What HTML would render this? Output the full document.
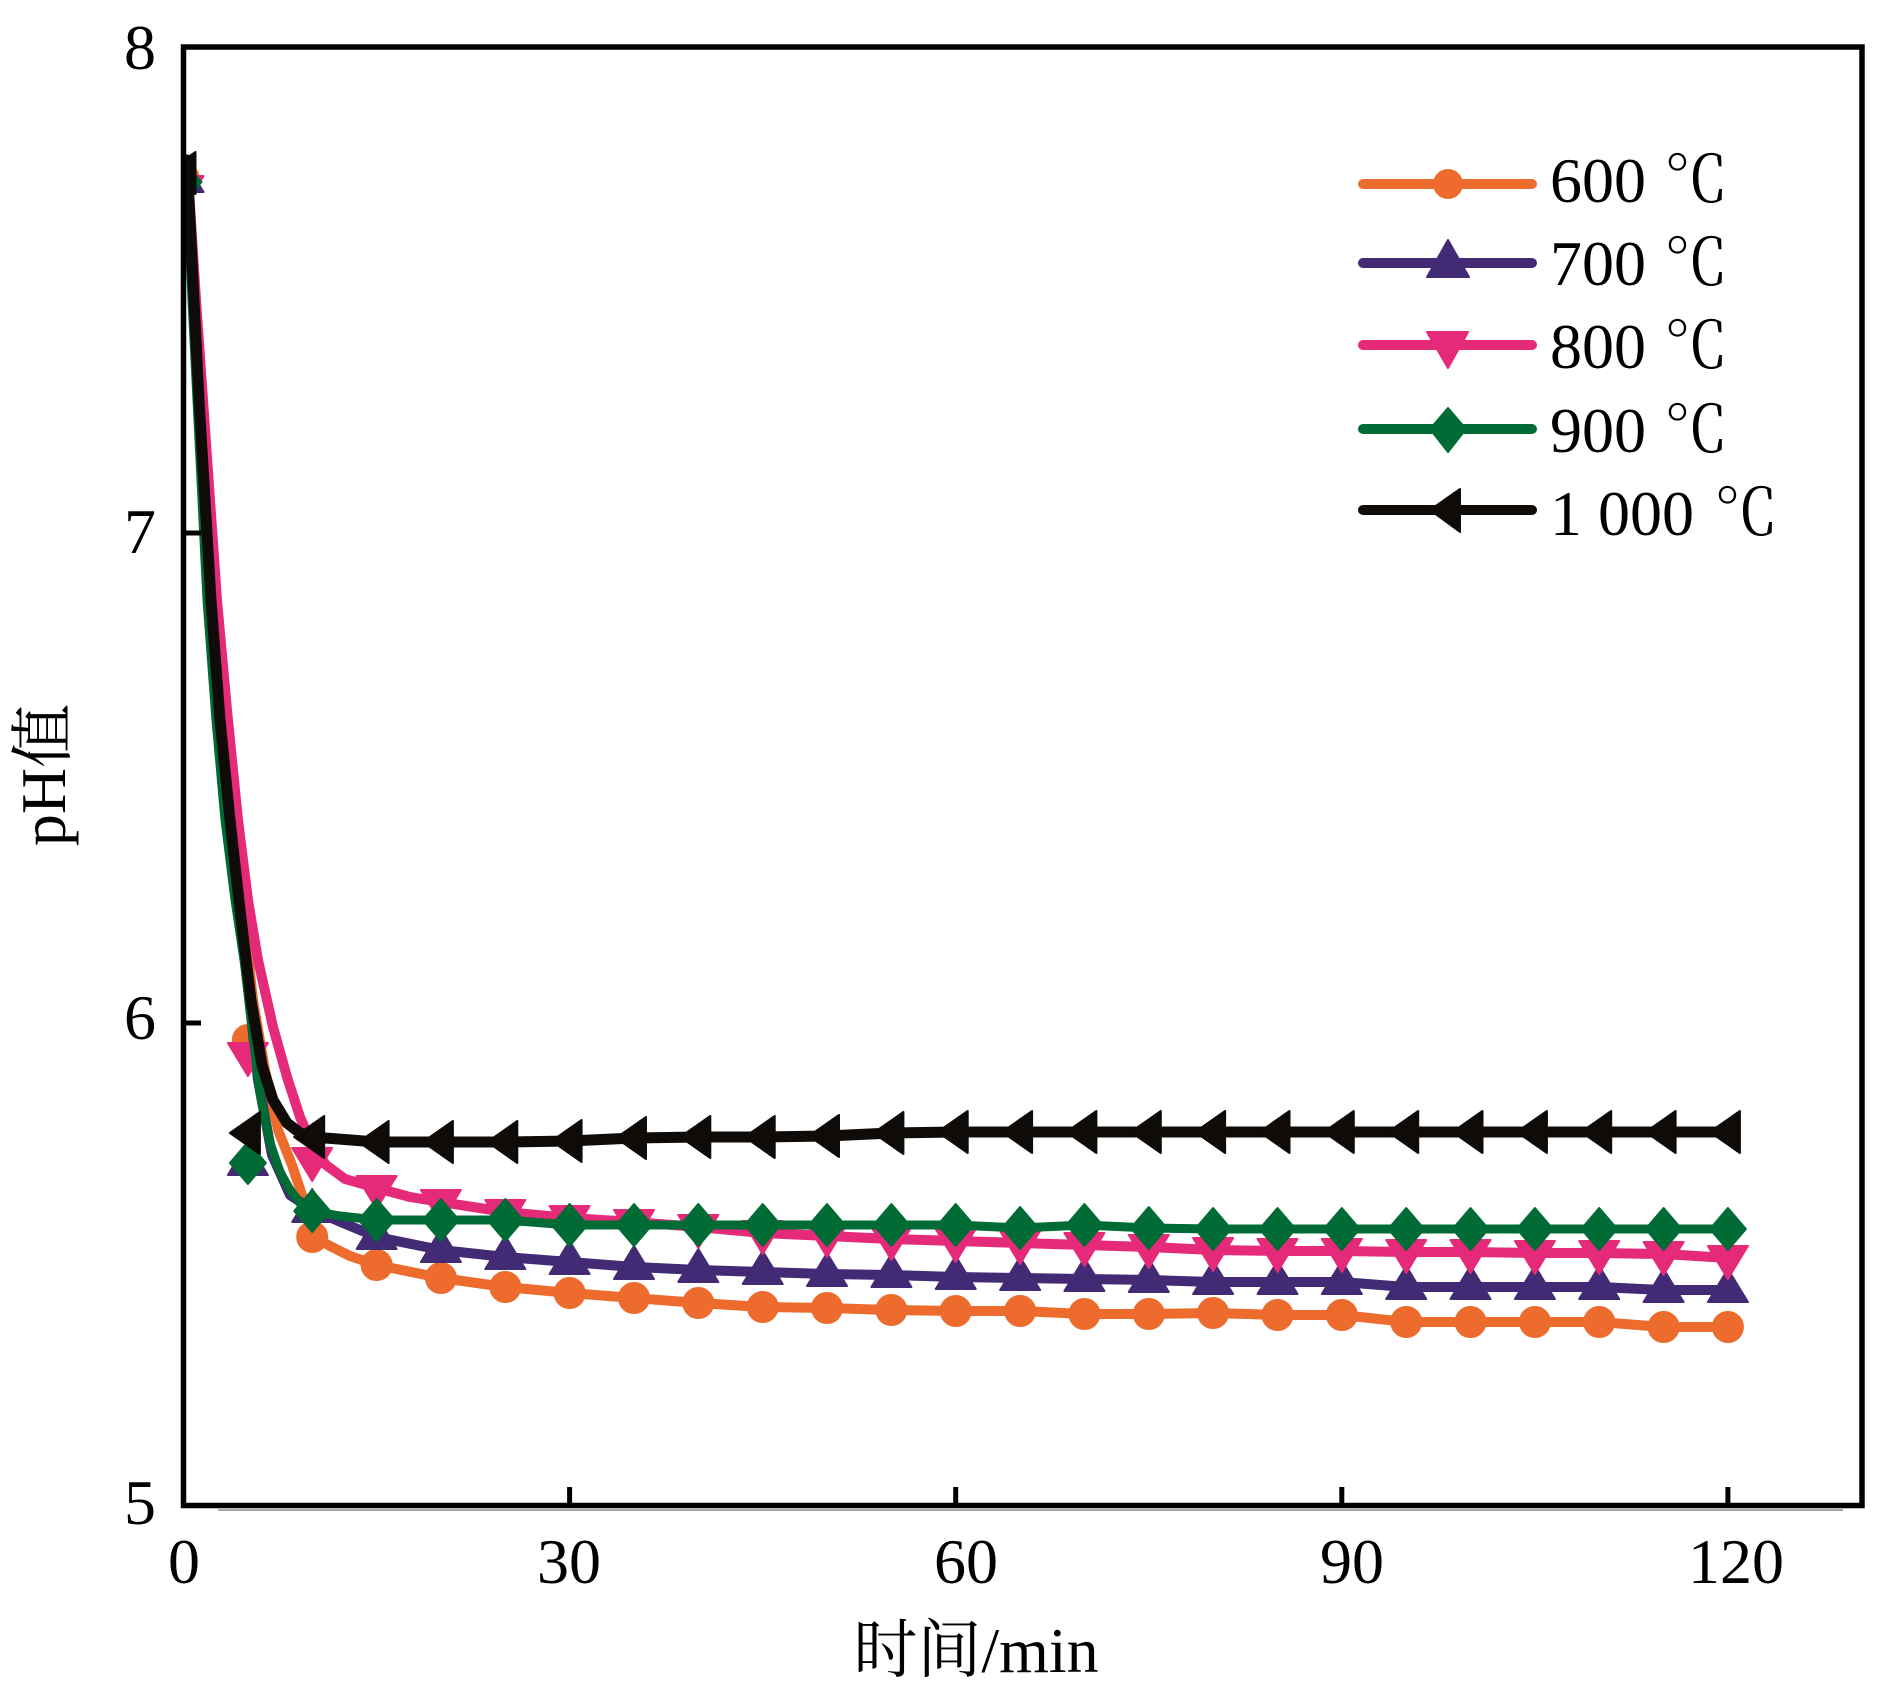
<!DOCTYPE html>
<html>
<head>
<meta charset="utf-8">
<style>
html,body{margin:0;padding:0;background:#fff;}
svg{display:block;}
text{font-family:"Liberation Serif","Noto Serif CJK SC",serif;fill:#000;}
</style>
</head>
<body>
<svg width="1890" height="1703" viewBox="0 0 1890 1703" xmlns="http://www.w3.org/2000/svg">
<defs>
  <clipPath id="pa"><rect x="183.5" y="47" width="1678.5" height="1458.5"/></clipPath>
  <circle id="c" cx="0" cy="0" r="15"/>
  <polygon id="tu" points="0,-21 20,12 -20,12" stroke-linejoin="round"/>
  <polygon id="td" points="0,21 20,-12 -20,-12" stroke-linejoin="round"/>
  <polygon id="dm" points="0,-21 18,0 0,21 -18,0" stroke-linejoin="round"/>
  <polygon id="tl" points="-18,0 12,-21 12,21" stroke-linejoin="round"/>
</defs>
<rect width="1890" height="1703" fill="#fff"/>

<g clip-path="url(#pa)">
  <!-- 600 orange -->
  <polyline fill="none" stroke="#EC6B2D" stroke-width="10" stroke-linejoin="round" stroke-linecap="round"
    points="188,180 200,400 213,600 233,820 253,1000 265,1070 278,1130 292,1165 302,1195 310,1225 314,1237 330,1246 350,1256 376.6,1265 440.9,1278 505.3,1287 569.6,1293 634,1298 698.3,1303 762.7,1307 827,1308 891.4,1310 955.7,1311 1020.1,1311 1084.4,1314 1148.8,1314 1213.1,1313 1277.5,1315 1341.8,1315 1406.2,1322 1470.5,1322 1534.9,1322 1599.2,1322 1663.6,1327 1727.9,1327"/>
  <g fill="#EC6B2D" stroke="#EC6B2D" stroke-width="2">
    <use href="#c" x="183.5" y="178"/><use href="#c" x="247.9" y="1040"/><use href="#c" x="312.2" y="1237"/><use href="#c" x="376.6" y="1265"/><use href="#c" x="440.9" y="1278"/><use href="#c" x="505.3" y="1287"/><use href="#c" x="569.6" y="1293"/><use href="#c" x="634" y="1298"/><use href="#c" x="698.3" y="1303"/><use href="#c" x="762.7" y="1307"/><use href="#c" x="827" y="1308"/><use href="#c" x="891.4" y="1310"/><use href="#c" x="955.7" y="1311"/><use href="#c" x="1020.1" y="1311"/><use href="#c" x="1084.4" y="1314"/><use href="#c" x="1148.8" y="1314"/><use href="#c" x="1213.1" y="1313"/><use href="#c" x="1277.5" y="1315"/><use href="#c" x="1341.8" y="1315"/><use href="#c" x="1406.2" y="1322"/><use href="#c" x="1470.5" y="1322"/><use href="#c" x="1534.9" y="1322"/><use href="#c" x="1599.2" y="1322"/><use href="#c" x="1663.6" y="1327"/><use href="#c" x="1727.9" y="1327"/>
  </g>

  <!-- 700 purple -->
  <polyline fill="none" stroke="#432A74" stroke-width="10" stroke-linejoin="round" stroke-linecap="round"
    points="187,182 198,400 209,600 228,820 245,960 258,1080 272,1155 290,1195 312.2,1210 376.6,1237 440.9,1250 505.3,1257 569.6,1262 634,1267 698.3,1270 762.7,1272 827,1274 891.4,1275 955.7,1277 1020.1,1278 1084.4,1279 1148.8,1280 1213.1,1282 1277.5,1282 1341.8,1282 1406.2,1287 1470.5,1287 1534.9,1287 1599.2,1287 1663.6,1290 1727.9,1290"/>
  <g fill="#432A74" stroke="#432A74" stroke-width="2">
    <use href="#tu" x="183.5" y="180"/><use href="#tu" x="247.9" y="1163"/><use href="#tu" x="312.2" y="1210"/><use href="#tu" x="376.6" y="1237"/><use href="#tu" x="440.9" y="1250"/><use href="#tu" x="505.3" y="1257"/><use href="#tu" x="569.6" y="1262"/><use href="#tu" x="634" y="1267"/><use href="#tu" x="698.3" y="1270"/><use href="#tu" x="762.7" y="1272"/><use href="#tu" x="827" y="1274"/><use href="#tu" x="891.4" y="1275"/><use href="#tu" x="955.7" y="1277"/><use href="#tu" x="1020.1" y="1278"/><use href="#tu" x="1084.4" y="1279"/><use href="#tu" x="1148.8" y="1280"/><use href="#tu" x="1213.1" y="1282"/><use href="#tu" x="1277.5" y="1282"/><use href="#tu" x="1341.8" y="1282"/><use href="#tu" x="1406.2" y="1287"/><use href="#tu" x="1470.5" y="1287"/><use href="#tu" x="1534.9" y="1287"/><use href="#tu" x="1599.2" y="1287"/><use href="#tu" x="1663.6" y="1290"/><use href="#tu" x="1727.9" y="1290"/>
  </g>

  <!-- 800 pink -->
  <polyline fill="none" stroke="#E42A78" stroke-width="10" stroke-linejoin="round" stroke-linecap="round"
    points="189,190 196,300 203,400 210,500 217,600 227,710 238,820 248,900 258,960 273,1027 287,1077 300,1117 312,1145 326,1165 345,1179 376.6,1188 410,1197 440.9,1202 505.3,1212 569.6,1218 634,1222 698.3,1227 762.7,1233 827,1236 891.4,1239 955.7,1241 1020.1,1243 1084.4,1245 1148.8,1247 1213.1,1250 1277.5,1251 1341.8,1251 1406.2,1252 1470.5,1252 1534.9,1253 1599.2,1253 1663.6,1254 1727.9,1258"/>
  <g fill="#E42A78" stroke="#E42A78" stroke-width="2">
    <use href="#td" x="183.5" y="188"/><use href="#td" x="247.9" y="1055"/><use href="#td" x="312.2" y="1160"/><use href="#td" x="376.6" y="1188"/><use href="#td" x="440.9" y="1202"/><use href="#td" x="505.3" y="1212"/><use href="#td" x="569.6" y="1218"/><use href="#td" x="634" y="1222"/><use href="#td" x="698.3" y="1227"/><use href="#td" x="762.7" y="1233"/><use href="#td" x="827" y="1236"/><use href="#td" x="891.4" y="1239"/><use href="#td" x="955.7" y="1241"/><use href="#td" x="1020.1" y="1243"/><use href="#td" x="1084.4" y="1245"/><use href="#td" x="1148.8" y="1247"/><use href="#td" x="1213.1" y="1250"/><use href="#td" x="1277.5" y="1251"/><use href="#td" x="1341.8" y="1251"/><use href="#td" x="1406.2" y="1252"/><use href="#td" x="1470.5" y="1252"/><use href="#td" x="1534.9" y="1253"/><use href="#td" x="1599.2" y="1253"/><use href="#td" x="1663.6" y="1254"/><use href="#td" x="1727.9" y="1258"/>
  </g>

  <!-- 900 green -->
  <polyline fill="none" stroke="#006B35" stroke-width="9" stroke-linejoin="round" stroke-linecap="round"
    points="187,185 192,300 197,400 202,500 207,600 216,720 225,820 235,900 244,960 252,1027 260,1093 270,1143 280,1172 290,1190 300,1203 312.2,1211 340,1216 376.6,1220 440.9,1220 505.3,1220 569.6,1225 634,1225 698.3,1225 762.7,1225 827,1225 891.4,1225 955.7,1225 1020.1,1228 1084.4,1225 1148.8,1228 1213.1,1229 1277.5,1229 1341.8,1229 1406.2,1229 1470.5,1229 1534.9,1229 1599.2,1229 1663.6,1229 1727.9,1229"/>
  <g fill="#006B35" stroke="#006B35" stroke-width="2">
    <use href="#dm" x="183.5" y="182"/><use href="#dm" x="247.9" y="1163"/><use href="#dm" x="312.2" y="1211"/><use href="#dm" x="376.6" y="1220"/><use href="#dm" x="440.9" y="1220"/><use href="#dm" x="505.3" y="1220"/><use href="#dm" x="569.6" y="1225"/><use href="#dm" x="634" y="1225"/><use href="#dm" x="698.3" y="1225"/><use href="#dm" x="762.7" y="1225"/><use href="#dm" x="827" y="1225"/><use href="#dm" x="891.4" y="1225"/><use href="#dm" x="955.7" y="1225"/><use href="#dm" x="1020.1" y="1228"/><use href="#dm" x="1084.4" y="1225"/><use href="#dm" x="1148.8" y="1228"/><use href="#dm" x="1213.1" y="1229"/><use href="#dm" x="1277.5" y="1229"/><use href="#dm" x="1341.8" y="1229"/><use href="#dm" x="1406.2" y="1229"/><use href="#dm" x="1470.5" y="1229"/><use href="#dm" x="1534.9" y="1229"/><use href="#dm" x="1599.2" y="1229"/><use href="#dm" x="1663.6" y="1229"/><use href="#dm" x="1727.9" y="1229"/>
  </g>

  <!-- 1000 black -->
  <polyline fill="none" stroke="#0E0B09" stroke-width="11" stroke-linejoin="round" stroke-linecap="round"
    points="187,160 193,280 199,400 205,500 211,600 220,720 230,820 240,910 251,1000 262,1065 273,1100 287,1123 300,1133 312.2,1137 376.6,1142 440.9,1142 505.3,1142 569.6,1141 634,1138 698.3,1137 762.7,1137 827,1136 891.4,1133 955.7,1132 1020.1,1132 1084.4,1132 1148.8,1132 1213.1,1132 1277.5,1132 1341.8,1132 1406.2,1132 1470.5,1132 1534.9,1132 1599.2,1132 1663.6,1132 1727.9,1132"/>
  <g fill="#0E0B09" stroke="#0E0B09" stroke-width="2">
    <use href="#tl" x="183.5" y="173"/><use href="#tl" x="247.9" y="1133"/><use href="#tl" x="312.2" y="1137"/><use href="#tl" x="376.6" y="1142"/><use href="#tl" x="440.9" y="1142"/><use href="#tl" x="505.3" y="1142"/><use href="#tl" x="569.6" y="1141"/><use href="#tl" x="634" y="1138"/><use href="#tl" x="698.3" y="1137"/><use href="#tl" x="762.7" y="1137"/><use href="#tl" x="827" y="1136"/><use href="#tl" x="891.4" y="1133"/><use href="#tl" x="955.7" y="1132"/><use href="#tl" x="1020.1" y="1132"/><use href="#tl" x="1084.4" y="1132"/><use href="#tl" x="1148.8" y="1132"/><use href="#tl" x="1213.1" y="1132"/><use href="#tl" x="1277.5" y="1132"/><use href="#tl" x="1341.8" y="1132"/><use href="#tl" x="1406.2" y="1132"/><use href="#tl" x="1470.5" y="1132"/><use href="#tl" x="1534.9" y="1132"/><use href="#tl" x="1599.2" y="1132"/><use href="#tl" x="1663.6" y="1132"/><use href="#tl" x="1727.9" y="1132"/>
  </g>
</g>

<!-- frame -->
<line x1="218" y1="1510" x2="1843" y2="1510" stroke="#a8a8a8" stroke-width="2"/>
<rect x="183.5" y="47" width="1678.5" height="1458.5" fill="none" stroke="#000" stroke-width="5.5"/>
<!-- ticks -->
<g stroke="#000" stroke-width="5">
  <line x1="569.6" y1="1487" x2="569.6" y2="1505"/>
  <line x1="955.7" y1="1487" x2="955.7" y2="1505"/>
  <line x1="1341.8" y1="1487" x2="1341.8" y2="1505"/>
  <line x1="1727.9" y1="1487" x2="1727.9" y2="1505"/>
  <line x1="183.5" y1="533" x2="201" y2="533"/>
  <line x1="183.5" y1="1023" x2="201" y2="1023"/>
</g>

<!-- y tick labels -->
<g font-size="64" text-anchor="end">
  <text x="156" y="69">8</text>
  <text x="156" y="553">7</text>
  <text x="156" y="1039">6</text>
  <text x="156" y="1524">5</text>
</g>
<!-- x tick labels -->
<g font-size="64" text-anchor="middle">
  <text x="184" y="1583">0</text>
  <text x="569" y="1583">30</text>
  <text x="966" y="1583">60</text>
  <text x="1352" y="1583">90</text>
  <text x="1736" y="1583">120</text>
</g>

<!-- axis titles -->
<text x="976" y="1672" font-size="64" text-anchor="middle">时间/min</text>
<text transform="translate(65,775) rotate(-90)" font-size="64" text-anchor="middle">pH值</text>

<!-- legend -->
<g stroke-width="10" stroke-linecap="round">
  <line x1="1363" y1="184" x2="1532" y2="184" stroke="#EC6B2D"/>
  <line x1="1363" y1="263" x2="1532" y2="263" stroke="#432A74"/>
  <line x1="1363" y1="345" x2="1532" y2="345" stroke="#E42A78"/>
  <line x1="1363" y1="429" x2="1532" y2="429" stroke="#006B35"/>
  <line x1="1363" y1="510" x2="1532" y2="510" stroke="#0E0B09"/>
</g>
<circle cx="1448" cy="184" r="15" fill="#EC6B2D"/>
<polygon points="1448,240 1469,277 1427,277" fill="#432A74" stroke="#432A74" stroke-width="2" stroke-linejoin="round"/>
<polygon points="1427,332 1468,332 1448,368" fill="#E42A78" stroke="#E42A78" stroke-width="2" stroke-linejoin="round"/>
<polygon points="1448,408 1466,429 1448,452 1430,429" fill="#006B35" stroke="#006B35" stroke-width="2" stroke-linejoin="round"/>
<polygon points="1430,510 1460,489 1460,532" fill="#0E0B09" stroke="#0E0B09" stroke-width="2" stroke-linejoin="round"/>
<g font-size="64">
  <text x="1550" y="202">600</text><text x="1664" y="202" font-family="'Noto Serif CJK SC',serif">℃</text>
  <text x="1550" y="285">700</text><text x="1664" y="285" font-family="'Noto Serif CJK SC',serif">℃</text>
  <text x="1550" y="368">800</text><text x="1664" y="368" font-family="'Noto Serif CJK SC',serif">℃</text>
  <text x="1550" y="452">900</text><text x="1664" y="452" font-family="'Noto Serif CJK SC',serif">℃</text>
  <text x="1550" y="535">1 000</text><text x="1714" y="535" font-family="'Noto Serif CJK SC',serif">℃</text>
</g>
</svg>
</body>
</html>
